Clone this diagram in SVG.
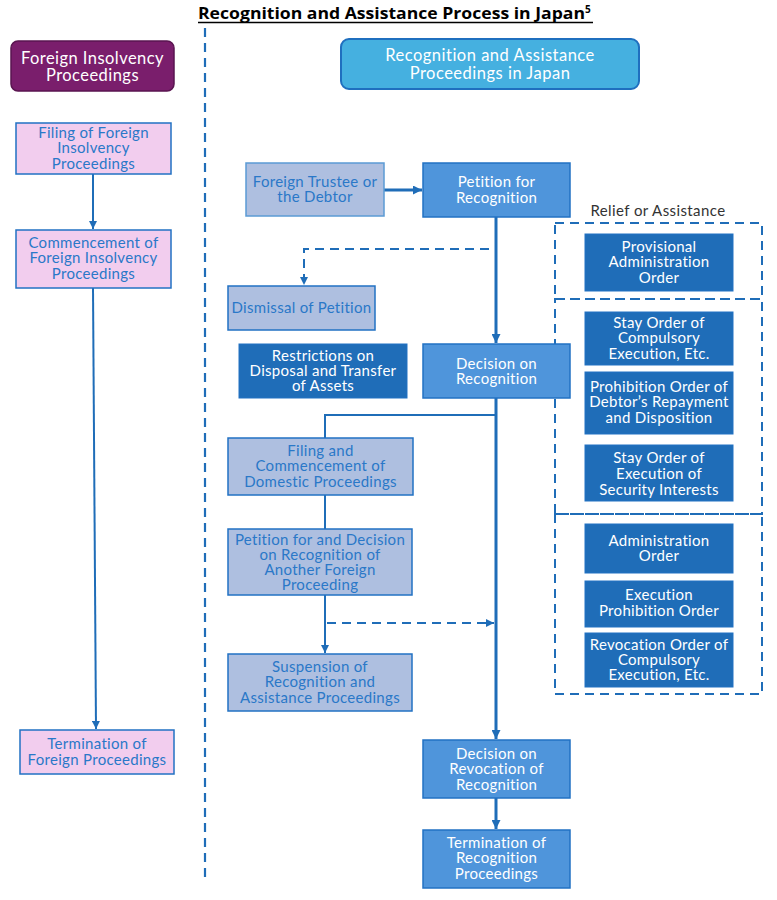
<svg xmlns="http://www.w3.org/2000/svg" width="777" height="900" viewBox="0 0 777 900">
<defs>
<marker id="ah" viewBox="0 0 10 10" refX="10" refY="5" markerWidth="4" markerHeight="4" markerUnits="strokeWidth" orient="auto"><path d="M0,0 L10,5 L0,10 z" fill="#1f6db8"/></marker>
<marker id="ah3" viewBox="0 0 10 10" refX="10" refY="5" markerWidth="3" markerHeight="3" markerUnits="strokeWidth" orient="auto"><path d="M0,0 L10,5 L0,10 z" fill="#1f6db8"/></marker>
<style>
text{font-family:Lato,"Open Sans","DejaVu Sans",sans-serif;font-size:15px;letter-spacing:0.3px;text-anchor:middle}
.w{fill:#ffffff}
.b{fill:#2a78c8}
.hdr{font-size:16.5px;letter-spacing:0.45px}
.pink{fill:#f2cdee;stroke:#2272c3;stroke-width:1.5}
.lav{fill:#aebfe0;stroke:#2272c3;stroke-width:1.5}
.lav2{fill:#aebfe0;stroke:#5b9bd5;stroke-width:1.5}
.mid{fill:#4f95db;stroke:#2272c3;stroke-width:1.5}
.dark{fill:#1f6db8;stroke:#2272c3;stroke-width:1}
.ln{fill:none;stroke:#1f6db8;stroke-width:2}
.lnt{fill:none;stroke:#1f6db8;stroke-width:3}
.dsh{fill:none;stroke:#1f6db8;stroke-width:2;stroke-dasharray:9,6}
</style>
</defs>
<rect width="777" height="900" fill="#ffffff"/>
<g id="title">
<text x="198" y="19" style="font-family:'Open Sans','Liberation Sans',sans-serif;font-weight:bold;font-size:16.5px;fill:#000;text-anchor:start;letter-spacing:0"><tspan textLength="387" lengthAdjust="spacingAndGlyphs">Recognition and Assistance Process in Japan</tspan><tspan dy="-6" style="font-size:10px">5</tspan></text>
<line x1="198" y1="22.5" x2="593" y2="22.5" stroke="#000" stroke-width="1.5"/>
</g>
<g id="divider"><line x1="205" y1="28" x2="205" y2="882" class="dsh" style="stroke-width:2.2"/></g>
<g id="relief-groups">
<rect x="555" y="223" width="207" height="76" class="dsh"/>
<rect x="555" y="299" width="207" height="215" class="dsh"/>
<rect x="555" y="514" width="207" height="180" class="dsh"/>
<text x="658" y="216" style="fill:#333;letter-spacing:0.4px">Relief or Assistance</text>
</g>
<g id="connectors">
<line x1="93" y1="174" x2="93" y2="229" class="ln" marker-end="url(#ah)"/>
<line x1="93" y1="288" x2="96" y2="729" class="ln" marker-end="url(#ah)"/>
<line x1="384" y1="190" x2="422" y2="190" class="lnt" marker-end="url(#ah3)"/>
<line x1="496" y1="217" x2="496" y2="343" class="lnt" marker-end="url(#ah3)"/>
<polyline points="489,249 304,249 304,285" class="dsh" marker-end="url(#ah)"/>
<line x1="496" y1="398" x2="496" y2="739" class="lnt" marker-end="url(#ah3)"/>
<polyline points="495,415 325,415 325,438" class="ln"/>
<line x1="325" y1="495" x2="325" y2="529" class="ln"/>
<line x1="325" y1="595" x2="325" y2="653" class="ln" marker-end="url(#ah)"/>
<line x1="327" y1="623" x2="494" y2="623" class="dsh" marker-end="url(#ah)"/>
<line x1="496" y1="798" x2="496" y2="829" class="lnt" marker-end="url(#ah3)"/>
</g>
<g id="hdr-foreign">
<rect x="11" y="41" width="163" height="50" rx="7" fill="#7a1e6c" stroke="#5a1550" stroke-width="1.5"/>
<text class="w hdr"><tspan x="92.5" y="63.5">Foreign Insolvency</tspan><tspan x="92.5" y="80.5">Proceedings</tspan></text>
</g>
<g id="hdr-japan">
<rect x="341" y="39" width="298" height="50" rx="8" fill="#45b0e0" stroke="#1f6fbf" stroke-width="2"/>
<text class="w hdr" style="letter-spacing:0.5px"><tspan x="490" y="61">Recognition and Assistance</tspan><tspan x="490" y="79">Proceedings in Japan</tspan></text>
</g>
<g id="n-filing-foreign">
<rect x="16" y="123" width="155" height="51" class="pink"/>
<text class="b"><tspan x="93.5" y="138">Filing of Foreign</tspan><tspan x="93.5" y="153.3">Insolvency</tspan><tspan x="93.5" y="168.6">Proceedings</tspan></text>
</g>
<g id="n-commence-foreign">
<rect x="16" y="230" width="155" height="58" class="pink"/>
<text class="b"><tspan x="93.5" y="248">Commencement of</tspan><tspan x="93.5" y="263.3">Foreign Insolvency</tspan><tspan x="93.5" y="278.6">Proceedings</tspan></text>
</g>
<g id="n-term-foreign">
<rect x="20" y="730" width="154" height="44" class="pink"/>
<text class="b"><tspan x="97" y="749">Termination of</tspan><tspan x="97" y="765">Foreign Proceedings</tspan></text>
</g>
<g id="n-trustee">
<rect x="246" y="163" width="138" height="53" class="lav2"/>
<text class="b"><tspan x="315" y="187">Foreign Trustee or</tspan><tspan x="315" y="202">the Debtor</tspan></text>
</g>
<g id="n-petition">
<rect x="423" y="163" width="147" height="54" class="mid"/>
<text class="w"><tspan x="496.5" y="187">Petition for</tspan><tspan x="496.5" y="203">Recognition</tspan></text>
</g>
<g id="n-dismissal">
<rect x="228" y="286" width="147" height="44" class="lav"/>
<text class="b" x="301.5" y="313">Dismissal of Petition</text>
</g>
<g id="n-restrictions">
<rect x="239" y="344" width="168" height="54" class="dark"/>
<text class="w"><tspan x="323" y="361">Restrictions on</tspan><tspan x="323" y="376">Disposal and Transfer</tspan><tspan x="323" y="391">of Assets</tspan></text>
</g>
<g id="n-decision">
<rect x="423" y="344" width="147" height="54" class="mid"/>
<text class="w"><tspan x="496.5" y="369">Decision on</tspan><tspan x="496.5" y="384">Recognition</tspan></text>
</g>
<g id="n-domestic">
<rect x="228" y="438" width="185" height="57" class="lav"/>
<text class="b"><tspan x="320.5" y="456">Filing and</tspan><tspan x="320.5" y="471.3">Commencement of</tspan><tspan x="320.5" y="486.6">Domestic Proceedings</tspan></text>
</g>
<g id="n-another">
<rect x="228" y="529" width="184" height="66" class="lav"/>
<text class="b"><tspan x="320" y="545">Petition for and Decision</tspan><tspan x="320" y="560">on Recognition of</tspan><tspan x="320" y="575">Another Foreign</tspan><tspan x="320" y="590">Proceeding</tspan></text>
</g>
<g id="n-suspension">
<rect x="228" y="654" width="184" height="57" class="lav"/>
<text class="b"><tspan x="320" y="672">Suspension of</tspan><tspan x="320" y="687.3">Recognition and</tspan><tspan x="320" y="702.6">Assistance Proceedings</tspan></text>
</g>
<g id="n-revocation">
<rect x="423" y="740" width="147" height="58" class="mid"/>
<text class="w"><tspan x="496.5" y="759">Decision on</tspan><tspan x="496.5" y="774.3">Revocation of</tspan><tspan x="496.5" y="789.6">Recognition</tspan></text>
</g>
<g id="n-termination">
<rect x="423" y="830" width="147" height="58" class="mid"/>
<text class="w"><tspan x="496.5" y="848">Termination of</tspan><tspan x="496.5" y="863.3">Recognition</tspan><tspan x="496.5" y="878.6">Proceedings</tspan></text>
</g>
<g id="r-provisional">
<rect x="585" y="234" width="148" height="57" class="dark"/>
<text class="w"><tspan x="659" y="252">Provisional</tspan><tspan x="659" y="267.3">Administration</tspan><tspan x="659" y="282.6">Order</tspan></text>
</g>
<g id="r-stay-compulsory">
<rect x="585" y="312" width="148" height="53" class="dark"/>
<text class="w"><tspan x="659" y="328">Stay Order of</tspan><tspan x="659" y="343.3">Compulsory</tspan><tspan x="659" y="358.6">Execution, Etc.</tspan></text>
</g>
<g id="r-prohibition">
<rect x="585" y="372" width="148" height="62" class="dark"/>
<text class="w"><tspan x="659" y="392">Prohibition Order of</tspan><tspan x="659" y="407.3">Debtor’s Repayment</tspan><tspan x="659" y="422.6">and Disposition</tspan></text>
</g>
<g id="r-stay-security">
<rect x="585" y="445" width="148" height="56" class="dark"/>
<text class="w"><tspan x="659" y="463">Stay Order of</tspan><tspan x="659" y="478.6">Execution of</tspan><tspan x="659" y="495">Security Interests</tspan></text>
</g>
<g id="r-administration">
<rect x="585" y="524" width="148" height="49" class="dark"/>
<text class="w"><tspan x="659" y="546">Administration</tspan><tspan x="659" y="561">Order</tspan></text>
</g>
<g id="r-exec-prohibition">
<rect x="585" y="581" width="148" height="46" class="dark"/>
<text class="w"><tspan x="659" y="600">Execution</tspan><tspan x="659" y="616">Prohibition Order</tspan></text>
</g>
<g id="r-revocation-order">
<rect x="585" y="633" width="148" height="54" class="dark"/>
<text class="w"><tspan x="659" y="650">Revocation Order of</tspan><tspan x="659" y="665">Compulsory</tspan><tspan x="659" y="680">Execution, Etc.</tspan></text>
</g>
</svg>
